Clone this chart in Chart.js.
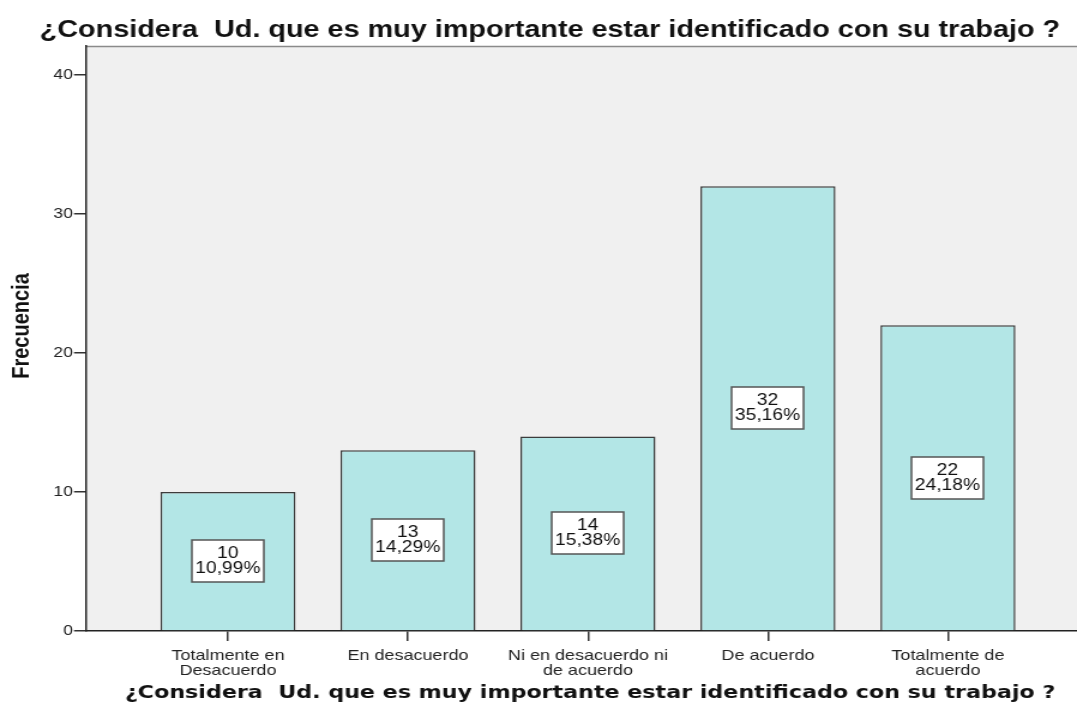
<!DOCTYPE html>
<html>
<head>
<meta charset="utf-8">
<script src="https://cdn.jsdelivr.net/npm/chart.js@4.4.1/dist/chart.umd.min.js"></script>
<style>
  html, body { margin: 0; padding: 0; background: #fff; overflow: hidden; }
  /* El original está estirado a lo ancho (~1.2x); se reproduce con scaleX */
  #wrap { width: 898px; height: 715px; transform: scaleX(1.1993); transform-origin: 0 0; }
</style>
</head>
<body>
<div id="wrap"><canvas id="grafico" width="898" height="715"></canvas></div>
<script>
// ============ DATOS ============
const categorias = [
  ['Totalmente en', 'Desacuerdo'],
  ['En desacuerdo'],
  ['Ni en desacuerdo ni', 'de acuerdo'],
  ['De acuerdo'],
  ['Totalmente de', 'acuerdo'],
];
const frecuencias = [10, 13, 14, 32, 22];
const porcentajes = ['10,99%', '14,29%', '15,38%', '35,16%', '24,18%'];
const ticksY = [0, 10, 20, 30, 40];
const titulo = '¿Considera  Ud. que es muy importante estar identificado con su trabajo ?';
const tituloY = 'Frecuencia';

// ============ PLUGINS ============
const fondoArea = {
  id: 'fondoArea',
  beforeDraw(chart) {
    const { ctx, chartArea: a } = chart;
    ctx.save();
    ctx.fillStyle = '#f0f0f0';
    ctx.fillRect(a.left, a.top, a.right - a.left, a.bottom - a.top);
    ctx.strokeStyle = '#8a8a8a';
    ctx.lineWidth = 1.5;
    ctx.beginPath();
    ctx.moveTo(a.left, a.top + 0.5);
    ctx.lineTo(a.right, a.top + 0.5);
    ctx.stroke();
    ctx.restore();
  },
};

const etiquetas = {
  id: 'etiquetas',
  afterDatasetsDraw(chart) {
    const { ctx } = chart;
    const meta = chart.getDatasetMeta(0);
    ctx.save();
    ctx.font = '16px "Liberation Sans", Arial, sans-serif';
    ctx.textAlign = 'center';
    ctx.textBaseline = 'middle';
    meta.data.forEach((bar, i) => {
      const cx = Math.round(bar.x);
      const cy = Math.round((bar.y + bar.base) / 2);
      const w = 60, h = 42;
      ctx.fillStyle = '#fff';
      ctx.fillRect(cx - w / 2, cy - h / 2, w, h);
      ctx.strokeStyle = '#555';
      ctx.lineWidth = 1.5;
      ctx.strokeRect(cx - w / 2, cy - h / 2, w, h);
      ctx.fillStyle = '#111';
      ctx.fillText(String(frecuencias[i]), cx, cy - 7);
      ctx.fillText(porcentajes[i], cx, cy + 7.5);
    });
    ctx.restore();
  },
};

const titulos = {
  id: 'titulos',
  afterDraw(chart) {
    const { ctx } = chart;
    ctx.save();
    ctx.fillStyle = '#111';
    ctx.textAlign = 'center';
    ctx.textBaseline = 'middle';
    ctx.font = 'bold 24px "Liberation Sans", Arial, sans-serif';
    ctx.fillText(titulo, 458.5, 30);
    ctx.font = 'bold 18.5px "DejaVu Sans", Verdana, sans-serif';
    ctx.fillText(titulo, 492, 693);
    ctx.translate(18, 326);
    ctx.rotate(-Math.PI / 2);
    ctx.font = 'bold 20px "Liberation Sans", Arial, sans-serif';
    ctx.fillText(tituloY, 0, 0);
    ctx.restore();
  },
};

// ============ CHART ============
const fuenteEje = { family: '"Liberation Sans", Arial, sans-serif', size: 14.5 };

new Chart(document.getElementById('grafico'), {
  type: 'bar',
  data: {
    datasets: [{
      data: frecuencias.map((v, i) => ({ x: i + 1, y: v })),
      backgroundColor: '#b3e6e6',
      borderColor: '#3c3c3c',
      borderWidth: 1.5,
      categoryPercentage: 1,
      barPercentage: 0.75,
    }],
  },
  options: {
    responsive: false,
    animation: false,
    events: [],
    layout: { padding: { top: 46, left: 0, right: 0, bottom: 0 } },
    plugins: { legend: { display: false }, tooltip: { enabled: false } },
    scales: {
      x: {
        type: 'linear',
        offset: false,
        min: 0.211,
        max: 5.717,
        afterBuildTicks: (s) => { s.ticks = categorias.map((_, i) => ({ value: i + 1 })); },
        afterFit: (s) => { s.height = 84; },
        ticks: {
          callback: (v) => categorias[v - 1],
          color: '#222',
          font: { ...fuenteEje, size: 15, lineHeight: 0.97 },
          padding: 8,
          maxRotation: 0,
          autoSkip: false,
        },
        grid: { offset: false, drawOnChartArea: false, drawTicks: true, tickLength: 10, color: '#333', lineWidth: 1.5 },
        border: { color: '#222', width: 1.5 },
      },
      y: {
        min: 0,
        max: 42.1,
        afterBuildTicks: (s) => { s.ticks = ticksY.map(v => ({ value: v })); },
        afterFit: (s) => { s.width = 71.7; },
        ticks: { color: '#222', font: fuenteEje, padding: 1 },
        grid: { drawOnChartArea: false, drawTicks: true, tickLength: 10, color: '#333', lineWidth: 1.5 },
        border: { color: '#222', width: 1.5 },
      },
    },
  },
  plugins: [fondoArea, etiquetas, titulos],
});
</script>
</body>
</html>
